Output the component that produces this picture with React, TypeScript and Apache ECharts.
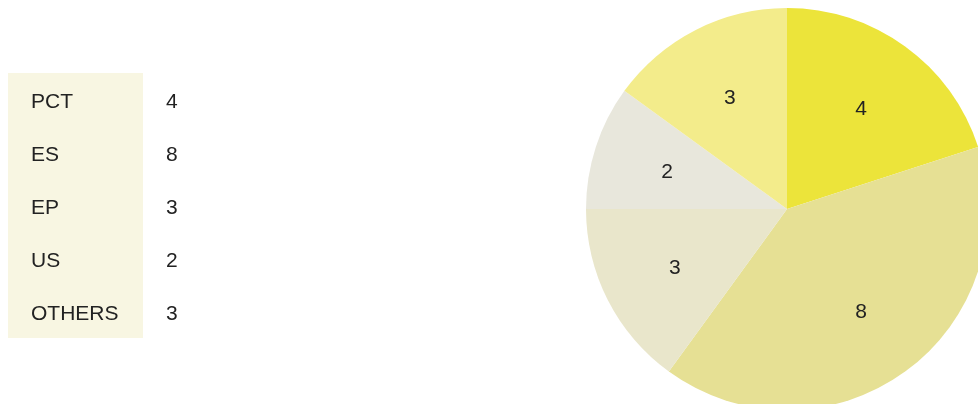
import React, { useEffect, useRef } from "react";
import * as echarts from "echarts";

const categories = ["PCT", "ES", "EP", "US", "OTHERS"];
const values = [4, 8, 3, 2, 3];
const colors = ["#ece43a", "#e6e094", "#e9e6cb", "#e8e7dc", "#f3ec8b"];

const FONT = "'Liberation Sans', Arial, sans-serif";
const TEXT_COLOR = "#222222";

export default function App() {
  const ref = useRef<HTMLDivElement>(null);
  useEffect(() => {
    if (!ref.current) return;
    const chart = echarts.init(ref.current, null, { renderer: "svg" });
    const data = categories.map((name, i) => ({
      name,
      value: values[i],
      itemStyle: { color: colors[i] },
    }));
    const rowTop = 100;
    const rowGap = 53;
    const graphic: any[] = [
      {
        type: "rect",
        shape: { x: 8, y: 73, width: 135, height: 265 },
        style: { fill: "#f8f6e2" },
        silent: true,
      },
    ];
    categories.forEach((name, i) => {
      graphic.push({
        type: "text",
        x: 31,
        y: rowTop + i * rowGap,
        style: {
          text: name,
          fill: TEXT_COLOR,
          font: `21px ${FONT}`,
          verticalAlign: "middle",
        },
      });
      graphic.push({
        type: "text",
        x: 166,
        y: rowTop + i * rowGap,
        style: {
          text: String(values[i]),
          fill: TEXT_COLOR,
          font: `21px ${FONT}`,
          verticalAlign: "middle",
        },
      });
    });
    chart.setOption({
      animation: false,
      graphic,
      series: [
        {
          type: "pie",
          center: [787, 209],
          radius: [0, 201],
          startAngle: 90,
          clockwise: true,
          silent: true,
          label: { show: false },
          labelLine: { show: false },
          itemStyle: { borderWidth: 0 },
          data,
        },
        {
          type: "pie",
          center: [787, 209],
          radius: [0, 246],
          startAngle: 90,
          clockwise: true,
          silent: true,
          itemStyle: { color: "transparent", borderWidth: 0 },
          label: {
            show: true,
            position: "inside",
            formatter: "{c}",
            color: TEXT_COLOR,
            fontSize: 21,
            fontFamily: FONT,
          },
          labelLine: { show: false },
          data: categories.map((name, i) => ({ name, value: values[i] })),
        },
      ],
    });
    return () => chart.dispose();
  }, []);
  return (
    <div
      ref={ref}
      style={{ position: "fixed", left: 0, top: 0, width: 978, height: 404 }}
    />
  );
}
